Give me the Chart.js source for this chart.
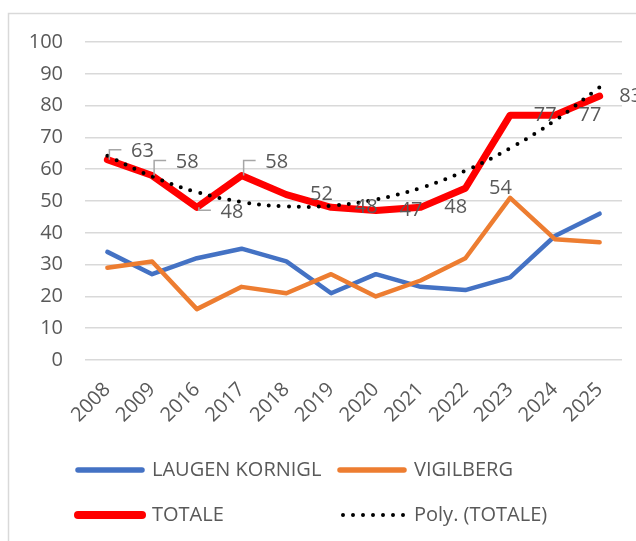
<!DOCTYPE html>
<html>
<head>
<meta charset="utf-8">
<script src="https://cdn.jsdelivr.net/npm/chart.js@4.4.1/dist/chart.umd.min.js"></script>
<style>
    html, body { margin: 0; padding: 0; background: #fff; }
    #wrap { width: 636px; height: 541px; position: relative; }
</style>
</head>
<body>
<div id="wrap"><canvas id="chart"></canvas></div>
<script>
// dati
const years = ['2008', '2009', '2016', '2017', '2018', '2019', '2020', '2021', '2022', '2023', '2024', '2025'];
const laugen = [34, 27, 32, 35, 31, 21, 27, 23, 22, 26, 39, 46];
const vigilberg = [29, 31, 16, 23, 21, 27, 20, 25, 32, 51, 38, 37];
const totale = [63, 58, 48, 58, 52, 48, 47, 48, 54, 77, 77, 83];
const polyTotale = [64.2, 57.7, 52.8, 49.7, 48.3, 48.5, 50.5, 54.1, 59.5, 66.6, 75.3, 85.8];
const yMin = 0, yMax = 100, yStep = 10;

const textColor = '#595959';
const fontMain = { family: "'Open Sans', sans-serif", size: 20 };

// spostamento delle etichette di TOTALE (le prime quattro hanno la linea guida)
const labelShiftX = [35, 35, 35, 35, 35, 35, 35, 35, 35, 35, 35, 31];
const labelShiftY = [-8, -13, 5, -13, 0, 0, 0, 0, 0, 0, 0, 0];
const hasLeader = [true, true, true, true, false, false, false, false, false, false, false, false];

// bordo esterno del grafico
const frameBorder = {
    id: 'frameBorder',
    beforeDraw(chart) {
        const ctx = chart.ctx;
        ctx.save();
        ctx.strokeStyle = '#d9d9d9';
        ctx.lineWidth = 1.5;
        ctx.strokeRect(8.5, 13.5, 800, 800);
        ctx.restore();
    }
};

// etichette dati della serie TOTALE
const totaleLabels = {
    id: 'totaleLabels',
    afterDatasetsDraw(chart) {
        const ctx = chart.ctx;
        const meta = chart.getDatasetMeta(2);
        ctx.save();
        ctx.font = `${fontMain.size}px ${fontMain.family}`;
        ctx.fillStyle = textColor;
        ctx.textAlign = 'center';
        ctx.textBaseline = 'middle';
        meta.data.forEach((pt, i) => {
            const cx = pt.x + labelShiftX[i];
            const cy = pt.y + labelShiftY[i];
            if (hasLeader[i]) {
                ctx.strokeStyle = '#a6a6a6';
                ctx.lineWidth = 1.5;
                ctx.beginPath();
                ctx.moveTo(pt.x + 2, pt.y);
                ctx.lineTo(pt.x + 2, cy - 2);
                ctx.lineTo(cx - 21, cy - 2);
                ctx.stroke();
            }
            ctx.fillText(String(totale[i]), cx, cy);
        });
        ctx.restore();
    }
};

// legenda a due colonne
const gridLegend = {
    id: 'gridLegend',
    afterDraw(chart) {
        const ctx = chart.ctx;
        const cols = [78, 340];
        const rows = [470, 515];
        ctx.save();
        ctx.font = `${fontMain.size}px ${fontMain.family}`;
        ctx.textBaseline = 'middle';
        chart.data.datasets.forEach((ds, i) => {
            const x = cols[i % 2];
            const y = rows[Math.floor(i / 2)];
            ctx.strokeStyle = ds.borderColor;
            ctx.lineCap = 'round';
            if (ds.borderDash) {
                ctx.lineWidth = 4;
                ctx.setLineDash([0, 10]);
                ctx.beginPath();
                ctx.moveTo(x + 3, y);
                ctx.lineTo(x + 73, y);
                ctx.stroke();
                ctx.setLineDash([]);
            } else {
                ctx.lineWidth = ds.borderWidth + 1;
                ctx.beginPath();
                ctx.moveTo(x, y);
                ctx.lineTo(x + 64, y);
                ctx.stroke();
            }
            ctx.fillStyle = textColor;
            ctx.fillText(ds.label, x + 74, y);
        });
        ctx.restore();
    }
};

new Chart(document.getElementById('chart'), {
    type: 'line',
    data: {
        labels: years,
        datasets: [
            { label: 'LAUGEN KORNIGL', data: laugen, borderColor: '#4472c4', borderWidth: 4.5, order: 4 },
            { label: 'VIGILBERG', data: vigilberg, borderColor: '#ed7d31', borderWidth: 4.5, order: 3 },
            { label: 'TOTALE', data: totale, borderColor: '#ff0000', borderWidth: 7, order: 2 },
            { label: 'Poly. (TOTALE)', data: polyTotale, borderColor: '#000000', borderWidth: 4,
              borderDash: [0, 10], borderCapStyle: 'round', tension: 0.4, order: 1 }
        ]
    },
    options: {
        responsive: true,
        maintainAspectRatio: false,
        animation: false,
        elements: {
            point: { radius: 0, hoverRadius: 0 },
            line: { tension: 0, borderJoinStyle: 'round', borderCapStyle: 'round', fill: false }
        },
        layout: { padding: { left: 0, right: 14, top: 42, bottom: 111 } },
        plugins: {
            legend: { display: false },
            tooltip: { enabled: false }
        },
        scales: {
            x: {
                offset: true,
                grid: { display: false, offset: true },
                border: { display: false },
                ticks: { color: textColor, font: fontMain, minRotation: 45, maxRotation: 45, autoSkip: false, padding: 10 },
                afterFit: s => { s.height = 70; }
            },
            y: {
                min: yMin,
                max: yMax,
                ticks: { stepSize: yStep, color: textColor, font: fontMain, padding: 22 },
                grid: { color: '#d9d9d9', lineWidth: 1.5, drawTicks: false },
                border: { display: false },
                afterFit: s => { s.width = 85; }
            }
        }
    },
    plugins: [frameBorder, totaleLabels, gridLegend]
});
</script>
</body>
</html>
